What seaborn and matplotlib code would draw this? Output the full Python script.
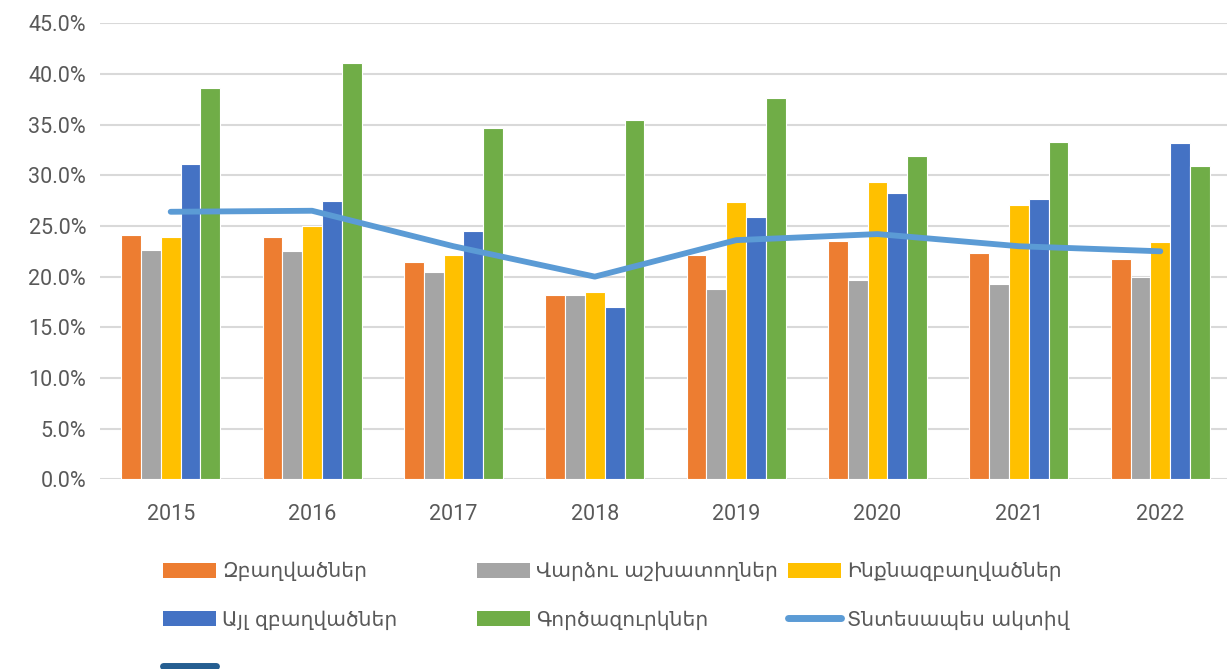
import matplotlib
matplotlib.use("Agg")
import matplotlib.pyplot as plt
import seaborn as sns
import pandas as pd
import numpy as np
from matplotlib.patches import Patch
from matplotlib.lines import Line2D
from matplotlib.ticker import FuncFormatter

years = ["2015", "2016", "2017", "2018", "2019", "2020", "2021", "2022"]
series_names = ["Զբաղվածներ", "Վարձու աշխատողներ", "Ինքնազբաղվածներ",
                "Այլ զբաղվածներ", "Գործազուրկներ"]
employed = [24.1, 23.9, 21.4, 18.2, 22.1, 23.5, 22.3, 21.7]
hired = [22.6, 22.5, 20.5, 18.2, 18.8, 19.7, 19.3, 20.0]
self_employed = [23.9, 25.0, 22.1, 18.5, 27.4, 29.3, 27.1, 23.4]
other_employed = [31.1, 27.5, 24.5, 17.0, 25.9, 28.3, 27.7, 33.2]
unemployed = [38.6, 41.1, 34.7, 35.5, 37.6, 31.9, 33.3, 30.9]
line_name = "Տնտեսապես ակտիվ"
active = [26.4, 26.5, 23.0, 20.0, 23.6, 24.2, 23.0, 22.5]

colors = ["#ED7D31", "#A5A5A5", "#FFC000", "#4472C4", "#70AD47"]
line_color = "#5B9BD5"
extra_color = "#255E91"

sns.set_theme(style="white")
plt.rcParams["font.family"] = ["Roboto", "DejaVu Sans"]

rows = []
for name, vals in zip(series_names, [employed, hired, self_employed, other_employed, unemployed]):
    for y, v in zip(years, vals):
        rows.append({"year": y, "series": name, "value": v / 100})
df = pd.DataFrame(rows)

fig = plt.figure(figsize=(12.27, 6.69), dpi=100)
ax = fig.add_axes([100 / 1227, 1 - 479.3 / 669, 1131 / 1227, (479.3 - 23.3) / 669])

sns.barplot(data=df, x="year", y="value", hue="series", order=years,
            hue_order=series_names, palette=colors, width=0.7, gap=0,
            edgecolor="white", linewidth=0.8, saturation=1, ax=ax, legend=False)
sns.lineplot(x=years, y=[a / 100 for a in active], color=line_color, linewidth=4.2,
             solid_capstyle="round", ax=ax, sort=False)

ax.set_ylim(0, 0.45)
ax.set_xlim(-0.5, len(years) - 0.5)
ax.set_yticks(np.arange(0, 0.4501, 0.05))
ax.yaxis.set_major_formatter(FuncFormatter(lambda v, p: f"{v*100:.1f}%"))
ax.grid(axis="y", color="#D9D9D9", linewidth=1.5)
ax.set_axisbelow(True)
for s in ax.spines.values():
    s.set_visible(False)
ax.tick_params(axis="both", length=0, labelsize=15.5, labelcolor="#595959")
ax.tick_params(axis="x", pad=18)
ax.tick_params(axis="y", pad=10)
ax.set_xlabel("")
ax.set_ylabel("")

leg_font = 14.6
def patch(c):
    return Patch(facecolor=c, edgecolor="none")

cols = [
    ([patch(colors[0]), patch(colors[3]),
      Line2D([], [], color=extra_color, lw=5, solid_capstyle="round")],
     [series_names[0], series_names[3], " "], 163),
    ([patch(colors[1]), patch(colors[4])], [series_names[1], series_names[4]], 477),
    ([patch(colors[2]), Line2D([], [], color=line_color, lw=5, solid_capstyle="round")],
     [series_names[2], line_name], 788),
]
for handles, labels, xpx in cols:
    fig.legend(handles, labels, loc="upper left",
               bbox_to_anchor=(xpx / 1227, 1 - 562 / 669),
               frameon=False, borderpad=0, borderaxespad=0,
               handlelength=2.6, handleheight=0.75, handletextpad=0.3,
               labelspacing=1.42, labelcolor="#595959",
               prop={"family": ["DejaVu Sans"], "size": leg_font})

fig.savefig("out.png", dpi=100)
